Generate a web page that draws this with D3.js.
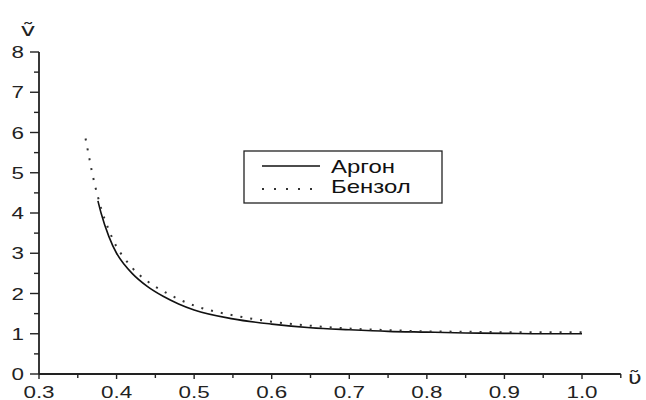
<!DOCTYPE html>
<html><head><meta charset="utf-8">
<script src="https://cdn.jsdelivr.net/npm/d3@7"></script>
<style>body{margin:0;background:#fff}svg{display:block}</style>
</head><body>
<svg id="c" width="646" height="400"></svg>
<script>
const xTicks = [0.3,0.4,0.5,0.6,0.7,0.8,0.9,1.0];
const xTickLabels = ["0.3","0.4","0.5","0.6","0.7","0.8","0.9","1.0"];
const yTicks = [0,1,2,3,4,5,6,7,8];
const seriesNames = ["Аргон","Бензол"];
const argonX = [0.376,0.38,0.39,0.40,0.41,0.42,0.44,0.46,0.48,0.50,0.55,0.60,0.65,0.70,0.75,0.80,0.85,0.90,0.95,1.00];
const argonY = [4.30,4.00,3.42,3.00,2.72,2.50,2.17,1.93,1.74,1.59,1.37,1.24,1.15,1.10,1.06,1.04,1.02,1.01,1.00,1.00];
const benzolX = [0.360,0.364,0.368,0.372,0.376,0.380,0.39,0.40,0.41,0.42,0.44,0.46,0.48,0.50,0.55,0.60,0.65,0.70,0.75,0.80,0.85,0.90,0.95,1.00];
const benzolY = [5.85,5.45,5.05,4.70,4.40,4.12,3.58,3.16,2.88,2.64,2.30,2.06,1.86,1.70,1.46,1.30,1.20,1.13,1.09,1.06,1.05,1.04,1.04,1.04];

const svg = d3.select("#c");
const col = "#222";
const x = d3.scaleLinear().domain([0.3,1.0]).range([39,582]);
const y = d3.scaleLinear().domain([0,8]).range([374,52]);
const font = "'Liberation Sans', Arial, sans-serif";
const sx = 1.4; // horizontal stretch of the reference glyphs

function stretchedText(g, px, py, anchor, size, txt, fam) {
  return g.append("text").attr("transform",`translate(${px},${py}) scale(${sx},1)`)
    .attr("text-anchor",anchor).attr("font-family",fam||font).attr("font-size",size)
    .attr("fill",col).text(txt);
}

// axes
const gx = svg.append("g").attr("transform","translate(0,374)");
gx.append("line").attr("x1",x(0.3)).attr("x2",x(1.05)).attr("stroke",col).attr("stroke-width",1.8);
const xMinor = d3.range(0.35,1.06,0.1);
gx.selectAll(".xm").data(xMinor).join("line").attr("x1",d=>x(d)).attr("x2",d=>x(d)).attr("y1",0).attr("y2",4).attr("stroke",col).attr("stroke-width",1.4);
gx.selectAll(".xM").data(xTicks).join("line").attr("x1",d=>x(d)).attr("x2",d=>x(d)).attr("y1",0).attr("y2",5).attr("stroke",col).attr("stroke-width",1.4);
xTicks.forEach((d,i)=>stretchedText(gx, x(d), 24, "middle", 16, xTickLabels[i]));

const gy = svg.append("g").attr("transform","translate(39,0)");
gy.append("line").attr("y1",y(0)).attr("y2",y(8)).attr("stroke",col).attr("stroke-width",1.8);
const yMinor = d3.range(0.5,8,1);
gy.selectAll(".ym").data(yMinor).join("line").attr("y1",d=>y(d)).attr("y2",d=>y(d)).attr("x1",0).attr("x2",-5).attr("stroke",col).attr("stroke-width",1.4);
gy.selectAll(".yM").data(yTicks).join("line").attr("y1",d=>y(d)).attr("y2",d=>y(d)).attr("x1",0).attr("x2",-9).attr("stroke",col).attr("stroke-width",1.4);
yTicks.forEach(d=>stretchedText(gy, -15, y(d)+6, "end", 16, String(d)));

// axis labels (letters with tilde)
stretchedText(svg, 28, 36, "middle", 18, "ṽ", "'DejaVu Sans', sans-serif");
stretchedText(svg, 635, 384, "middle", 17, "υ\u0303", "'DejaVu Sans', sans-serif");

// curves
const line = d3.line().x(d=>x(d[0])).y(d=>y(d[1])).curve(d3.curveMonotoneX);
svg.append("path").datum(argonX.map((v,i)=>[v,argonY[i]])).attr("d",line)
  .attr("fill","none").attr("stroke","#111").attr("stroke-width",1.6);
svg.append("path").datum(benzolX.map((v,i)=>[v,benzolY[i]])).attr("d",line)
  .attr("fill","none").attr("stroke","#333").attr("stroke-width",2).attr("stroke-dasharray","2,8");

// legend
const lg = svg.append("g");
lg.append("rect").attr("x",244).attr("y",151).attr("width",198).attr("height",52).attr("fill","#fff").attr("stroke",col).attr("stroke-width",1.3);
lg.append("line").attr("x1",262).attr("x2",320).attr("y1",166).attr("y2",166).attr("stroke","#111").attr("stroke-width",1.6);
lg.append("line").attr("x1",262).attr("x2",322).attr("y1",189).attr("y2",189).attr("stroke","#333").attr("stroke-width",2).attr("stroke-dasharray","2,10");
seriesNames.forEach((d,i)=>{
  lg.append("text").attr("transform",`translate(331,${173+i*20}) scale(1.33,1)`)
    .attr("font-family",font).attr("font-size",18).attr("fill","#111").text(d);
});
</script>
</body></html>
